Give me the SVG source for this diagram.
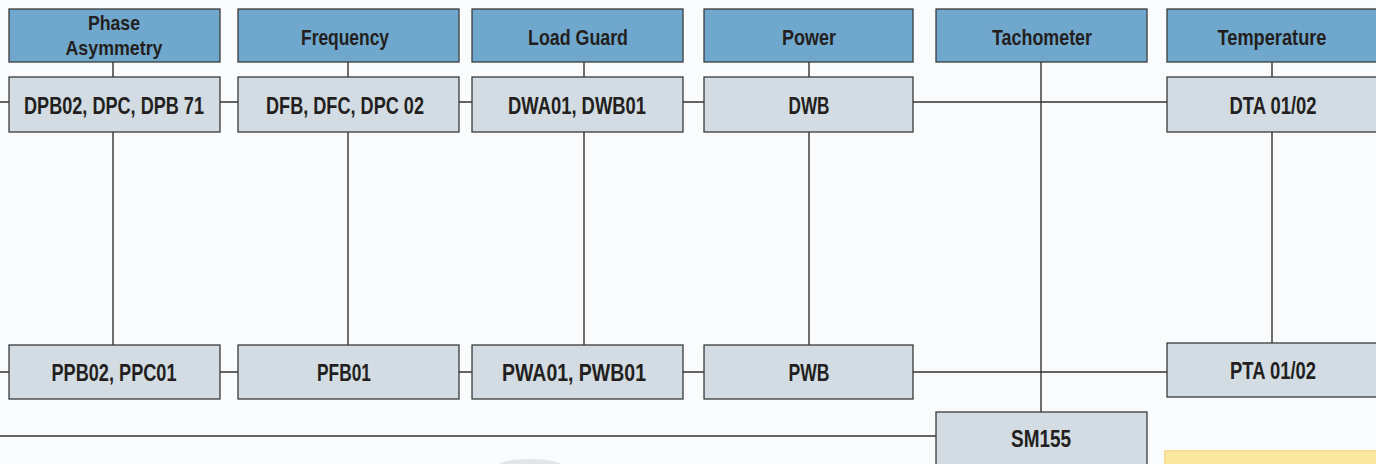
<svg xmlns="http://www.w3.org/2000/svg" width="1376" height="464" viewBox="0 0 1376 464">
<style>
.hd{fill:#70a8cd;stroke:#3a3a3a;stroke-width:1.3}
.bx{fill:#d2dce2;stroke:#3a3a3a;stroke-width:1.3}
.t{font-family:"Liberation Sans",Arial,sans-serif;font-weight:bold;fill:#231f20;text-anchor:middle}
.h{font-size:22px}
.h2{font-size:21px}
.r{font-size:23px}
.ln{stroke:#333;stroke-width:1.4;fill:none}
</style>
<rect width="1376" height="464" fill="#fafbfd"/>
<ellipse cx="530" cy="466" rx="32" ry="7" fill="#c8ccd0" opacity="0.45"/>
<rect x="1165" y="451" width="215" height="20" fill="#fde8a0" stroke="#f6dc98" stroke-width="2"/>
<g id="connectors" class="ln">
<path d="M0 102H9M220 102H238M459 102H472M683 102H704M913 102H1167"/>
<path d="M0 372H9M220 372H238M459 372H472M683 372H704M913 372H1167"/>
<path d="M0 436H936"/>
<path d="M113 62V77M113 132V345"/>
<path d="M348 62V77M348 132V345"/>
<path d="M584 62V77M584 132V345"/>
<path d="M809 62V77M809 132V345"/>
<path d="M1041 62V412"/>
<path d="M1272 62V77M1272 132V343"/>
</g>
<g id="h-phase"><rect class="hd" x="9" y="9" width="211" height="53"/><text class="t h2" x="114" y="29.5" textLength="52" lengthAdjust="spacingAndGlyphs">Phase</text><text class="t h2" x="114" y="54.5" textLength="97" lengthAdjust="spacingAndGlyphs">Asymmetry</text></g>
<g id="h-frequency"><rect class="hd" x="238" y="9" width="221" height="53"/><text class="t h" x="345" y="44.5" textLength="88" lengthAdjust="spacingAndGlyphs">Frequency</text></g>
<g id="h-loadguard"><rect class="hd" x="472" y="9" width="211" height="53"/><text class="t h" x="578" y="44.5" textLength="100" lengthAdjust="spacingAndGlyphs">Load Guard</text></g>
<g id="h-power"><rect class="hd" x="704" y="9" width="209" height="53"/><text class="t h" x="809" y="44.5" textLength="54" lengthAdjust="spacingAndGlyphs">Power</text></g>
<g id="h-tacho"><rect class="hd" x="936" y="9" width="211" height="53"/><text class="t h" x="1042" y="44.5" textLength="100" lengthAdjust="spacingAndGlyphs">Tachometer</text></g>
<g id="h-temp"><rect class="hd" x="1167" y="9" width="215" height="53"/><text class="t h" x="1272" y="44.5" textLength="109" lengthAdjust="spacingAndGlyphs">Temperature</text></g>
<g id="dpb"><rect class="bx" x="9" y="77" width="211" height="55"/><text class="t r" x="114" y="113.5" textLength="180" lengthAdjust="spacingAndGlyphs">DPB02, DPC, DPB 71</text></g>
<g id="dfb"><rect class="bx" x="238" y="77" width="221" height="55"/><text class="t r" x="345" y="113.5" textLength="158" lengthAdjust="spacingAndGlyphs">DFB, DFC, DPC 02</text></g>
<g id="dwa"><rect class="bx" x="472" y="77" width="211" height="55"/><text class="t r" x="577" y="113.5" textLength="138" lengthAdjust="spacingAndGlyphs">DWA01, DWB01</text></g>
<g id="dwb"><rect class="bx" x="704" y="77" width="209" height="55"/><text class="t r" x="809" y="113.5" textLength="41" lengthAdjust="spacingAndGlyphs">DWB</text></g>
<g id="dta"><rect class="bx" x="1167" y="77" width="215" height="55"/><text class="t r" x="1273" y="113.5" textLength="87" lengthAdjust="spacingAndGlyphs">DTA 01/02</text></g>
<g id="ppb"><rect class="bx" x="9" y="345" width="211" height="54"/><text class="t r" x="114" y="381" textLength="125" lengthAdjust="spacingAndGlyphs">PPB02, PPC01</text></g>
<g id="pfb"><rect class="bx" x="238" y="345" width="221" height="54"/><text class="t r" x="344" y="381" textLength="54" lengthAdjust="spacingAndGlyphs">PFB01</text></g>
<g id="pwa"><rect class="bx" x="472" y="345" width="211" height="54"/><text class="t r" x="574" y="381" textLength="144" lengthAdjust="spacingAndGlyphs">PWA01, PWB01</text></g>
<g id="pwb"><rect class="bx" x="704" y="345" width="209" height="54"/><text class="t r" x="809" y="381" textLength="41" lengthAdjust="spacingAndGlyphs">PWB</text></g>
<g id="pta"><rect class="bx" x="1167" y="343" width="215" height="54"/><text class="t r" x="1273" y="379" textLength="86" lengthAdjust="spacingAndGlyphs">PTA 01/02</text></g>
<g id="sm155"><rect class="bx" x="936" y="412" width="211" height="60"/><text class="t r" x="1041" y="447" textLength="60" lengthAdjust="spacingAndGlyphs">SM155</text></g>
</svg>
